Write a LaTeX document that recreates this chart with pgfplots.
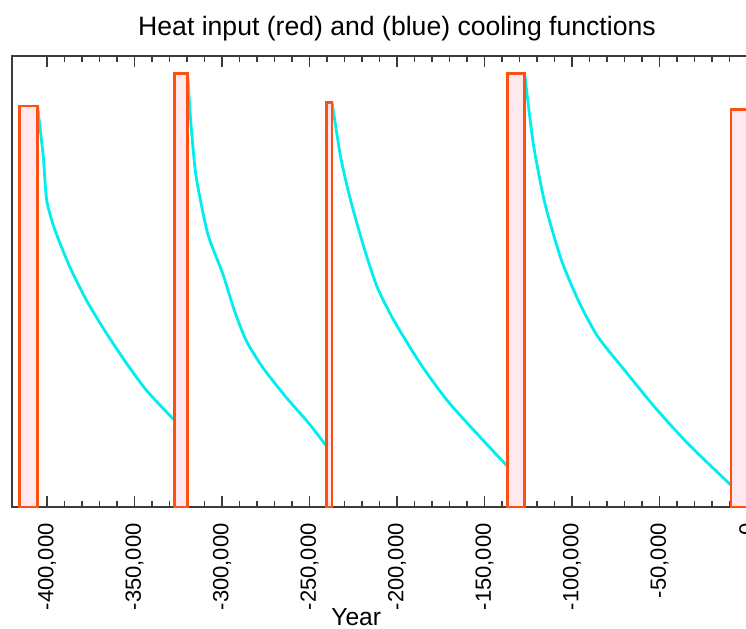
\documentclass[border=0pt]{standalone}
\usepackage{pgfplots}
\pgfplotsset{compat=1.18}
\usepackage{fontspec}
\setmainfont{Liberation Sans}

\definecolor{heatedge}{RGB}{255,80,20}
\definecolor{heatfill}{RGB}{255,232,238}
\definecolor{coolline}{RGB}{0,238,238}
\definecolor{framegray}{RGB}{60,60,60}

\begin{document}
\begin{tikzpicture}
\begin{axis}[
    width=385pt, height=225.5pt, scale only axis,
    xmin=-420000, xmax=20000,
    ymin=0, ymax=100,
    scaled x ticks=false,
    axis line style={framegray, line width=0.7pt},
    xtick={-400000,-350000,-300000,-250000,-200000,-150000,-100000,-50000,0},
    xticklabels={{-400,000},{-350,000},{-300,000},{-250,000},{-200,000},{-150,000},{-100,000},{-50,000},0},
    minor x tick num=4,
    ytick=\empty,
    tick align=inside,
    xtick pos=both,
    xticklabel pos=left,
    major tick length=5.5pt,
    minor tick length=2.8pt,
    tick style={framegray, line width=0.6pt},
    xticklabel shift=8pt,
    xticklabel style={rotate=90, anchor=east, inner sep=0pt,
        font=\fontsize{11}{12}\selectfont},
    title={Heat input (red) and (blue) cooling functions},
    title style={at={(0.5,1)}, anchor=base, yshift=4.5pt, inner sep=0pt,
        font=\fontsize{13.3}{15}\selectfont},
    xlabel={Year},
    xlabel style={at={(axis description cs:0.447,0)}, anchor=north,
        yshift=-50.5pt, inner sep=0pt, font=\fontsize{12.3}{14}\selectfont},
]
    % cooling curves
    \addplot[coolline, line width=1.4pt, smooth, tension=0.4] coordinates {
        (-405400,88.9) (-402110,77.6) (-400170,68.0) (-395450,61.4) (-386910,53.2)
        (-377400,45.8) (-366010,38.5) (-354620,31.9) (-343230,25.9) (-328090,19.6)
        (-327100,19.4)};
    \addplot[coolline, line width=1.4pt, smooth, tension=0.4] coordinates {
        (-319700,96.2) (-317610,84.3) (-314760,73.2) (-308160,60.6) (-299620,51.8)
        (-292950,43.6) (-286290,37.0) (-276840,31.0) (-263520,24.4) (-250250,18.5)
        (-240740,13.7)};
    \addplot[coolline, line width=1.4pt, smooth, tension=0.4] coordinates {
        (-237100,89.7) (-232200,77.6) (-226510,68.0) (-218940,57.6) (-211360,48.8)
        (-201850,41.4) (-186650,31.8) (-171500,23.7) (-154420,16.3) (-137340,9.2)};
    \addplot[coolline, line width=1.4pt, smooth, tension=0.4] coordinates {
        (-127100,96.2) (-122130,80.6) (-115470,67.3) (-106020,54.7) (-95550,45.1)
        (-85120,37.7) (-69920,30.3) (-52840,22.2) (-33880,14.1) (-10140,5.2)
        (-9200,4.9)};

    % heat input pulses
    \addplot[draw=heatedge, fill=heatfill, line width=1.4pt] coordinates {
        (-415700,0) (-415700,88.9) (-405400,88.9) (-405400,0)} -- cycle;
    \addplot[draw=heatedge, fill=heatfill, line width=1.4pt] coordinates {
        (-327100,0) (-327100,96.2) (-319700,96.2) (-319700,0)} -- cycle;
    \addplot[draw=heatedge, fill=heatfill, line width=1.4pt] coordinates {
        (-240200,0) (-240200,89.7) (-237100,89.7) (-237100,0)} -- cycle;
    \addplot[draw=heatedge, fill=heatfill, line width=1.4pt] coordinates {
        (-136800,0) (-136800,96.2) (-127100,96.2) (-127100,0)} -- cycle;
    \addplot[draw=heatedge, fill=heatfill, line width=1.4pt] coordinates {
        (-9200,0) (-9200,88.1) (3000,88.1) (3000,0)} -- cycle;
\end{axis}
\pgfresetboundingbox
\path[use as bounding box] ([xshift=-6pt,yshift=-60.5pt]current axis.south west)
    rectangle ([xshift=367pt,yshift=28pt]current axis.north west);
\end{tikzpicture}
\end{document}
